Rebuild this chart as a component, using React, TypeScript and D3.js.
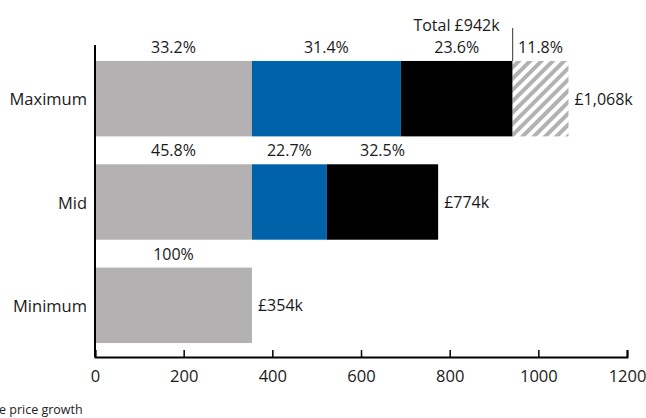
import React, { useEffect, useRef } from 'react';
import * as d3 from 'd3';

const categories = ['Maximum', 'Mid', 'Minimum'];
const segmentKeys = ['base', 'blue', 'black', 'growth'];
const segmentValues = [
  [354, 336, 252, 126],
  [354, 169, 251, 0],
  [354, 0, 0, 0],
];
const percentLabels = [
  ['33.2%', '31.4%', '23.6%', '11.8%'],
  ['45.8%', '22.7%', '32.5%', ''],
  ['100%', '', '', ''],
];
const totalLabels = ['£1,068k', '£774k', '£354k'];
const xTicks = [0, 200, 400, 600, 800, 1000, 1200];
const subtotalValue = 942;
const subtotalLabel = 'Total £942k';
const footnote = 'e price growth';

const colors: Record<string, string> = {
  base: '#b3b1b2',
  blue: '#0063aa',
  black: '#000000',
  growth: 'url(#hatch)',
};

const W = 646;
const H = 418;
const FONT = "'Open Sans', sans-serif";

const App: React.FC = () => {
  const svgRef = useRef<SVGSVGElement>(null);

  useEffect(() => {
    if (!svgRef.current) return;
    const svg = d3.select(svgRef.current);
    svg.selectAll('*').remove();

    const left = 95;
    const right = 627;
    const top = 47;
    const bottom = 357;

    const x = d3.scaleLinear().domain([0, 1200]).range([left, right]);
    const y = d3.scaleBand().domain(categories).range([top, bottom]).paddingInner(0.27).paddingOuter(0.135);

    // hatch pattern
    const defs = svg.append('defs');
    const pat = defs.append('pattern')
      .attr('id', 'hatch')
      .attr('patternUnits', 'userSpaceOnUse')
      .attr('width', 8)
      .attr('height', 8)
      .attr('patternTransform', 'rotate(45)');
    pat.append('rect').attr('width', 8).attr('height', 8).attr('fill', '#fff');
    pat.append('rect').attr('x', 0).attr('width', 4).attr('height', 8).attr('fill', '#b3b1b2');

    const g = svg.append('g');

    categories.forEach((cat, ci) => {
      const y0 = y(cat)!;
      const bh = y.bandwidth();
      let acc = 0;
      segmentValues[ci].forEach((v, si) => {
        if (v <= 0) return;
        const x0 = x(acc);
        const x1 = x(acc + v);
        g.append('rect')
          .attr('x', x0)
          .attr('y', y0)
          .attr('width', x1 - x0)
          .attr('height', bh)
          .attr('fill', colors[segmentKeys[si]]);
        const lbl = percentLabels[ci][si];
        if (lbl) {
          g.append('text')
            .attr('x', (x0 + x1) / 2)
            .attr('y', y0 - 8)
            .attr('text-anchor', 'middle')
            .style('font-family', FONT)
            .style('font-size', '16px')
            .attr('fill', '#1a1a1a')
            .text(lbl);
        }
        acc += v;
      });
      g.append('text')
        .attr('x', x(acc) + 6)
        .attr('y', y0 + bh / 2)
        .attr('dominant-baseline', 'central')
        .style('font-family', FONT)
        .style('font-size', '16px')
        .attr('fill', '#1a1a1a')
        .text(totalLabels[ci]);

      g.append('text')
        .attr('x', left - 8)
        .attr('y', y0 + bh / 2)
        .attr('text-anchor', 'end')
        .attr('dominant-baseline', 'central')
        .style('font-family', FONT)
        .style('font-size', '16.5px')
        .attr('fill', '#1a1a1a')
        .text(cat);
    });

    // subtotal marker
    const yMax = y(categories[0])!;
    g.append('line')
      .attr('x1', x(subtotalValue)).attr('x2', x(subtotalValue))
      .attr('y1', 28).attr('y2', yMax)
      .attr('stroke', '#555').attr('stroke-width', 1.2);
    g.append('text')
      .attr('x', x(subtotalValue) - 13)
      .attr('y', 31)
      .attr('text-anchor', 'end')
      .style('font-family', FONT)
      .style('font-size', '16px')
      .attr('fill', '#1a1a1a')
      .text(subtotalLabel);

    // axes
    g.append('line')
      .attr('x1', left).attr('x2', left)
      .attr('y1', top - 2).attr('y2', bottom)
      .attr('stroke', '#000').attr('stroke-width', 2);

    const xAxis = g.append('g')
      .attr('transform', `translate(0,${bottom})`)
      .call(d3.axisBottom(x).tickValues(xTicks).tickSize(-7).tickPadding(13).tickFormat(d3.format('d')));
    xAxis.select('.domain').attr('stroke', '#000').attr('stroke-width', 2);
    xAxis.selectAll('.tick line').attr('stroke', '#000').attr('stroke-width', 1.5);
    xAxis.selectAll('.tick text')
      .style('font-family', FONT)
      .style('font-size', '16.5px')
      .attr('fill', '#1a1a1a');

    svg.append('text')
      .attr('x', -1)
      .attr('y', 414)
      .style('font-family', FONT)
      .style('font-size', '12.5px')
      .attr('fill', '#222')
      .text(footnote);
  }, []);

  return (
    <div style={{ position: 'fixed', left: 0, top: 0, width: W, height: H, background: '#fff' }}>
      <svg ref={svgRef} width={W} height={H}></svg>
    </div>
  );
};

export default App;
